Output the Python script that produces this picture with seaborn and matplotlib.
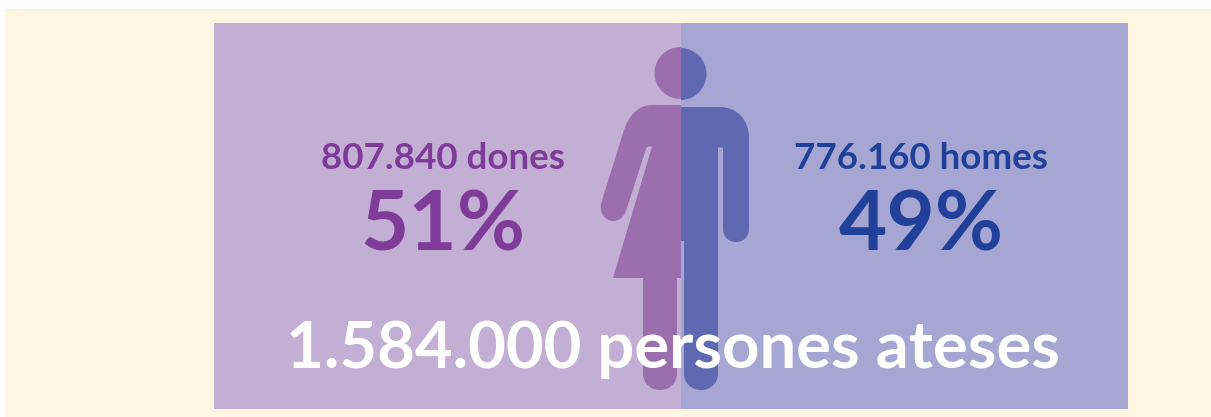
import matplotlib
matplotlib.use('Agg')
import matplotlib.pyplot as plt
from matplotlib.patches import Circle, PathPatch, Rectangle
from matplotlib.path import Path
import seaborn as sns

# Data
grups = ['dones', 'homes']
persones = [807840, 776160]
percentatges = ['51%', '49%']
etiquetes = ['807.840 dones', '776.160 homes']
total_label = '1.584.000 persones ateses'

W, H = 1211, 417
CREAM = '#FEF5E2'
BG = {'dones': '#C3AED4', 'homes': '#A5A6D2'}
ICON = {'dones': '#9B6FAE', 'homes': '#5F69B2'}
TXT = {'dones': '#7E3C98', 'homes': '#21409A'}

sns.set_theme(style='white')
plt.rcParams['font.family'] = ['Lato', 'DejaVu Sans']

fig = plt.figure(figsize=(W / 100, H / 100), dpi=100, facecolor='white')

# pixel canvas for the background and the icon
bg = fig.add_axes([0, 0, 1, 1], zorder=0)
bg.set_xlim(0, W)
bg.set_ylim(H, 0)
bg.axis('off')
bg.add_patch(Rectangle((5, 9), W - 5, H - 9, color=CREAM, lw=0))

# the two bars fill the panel, stacked by overlaying
ax = fig.add_axes([214 / W, 1 - 409 / H, 914 / W, 386 / H], zorder=1)
sns.barplot(x=[sum(persones)], y=['total'], color=BG['homes'], saturation=1, width=1, linewidth=0, ax=ax)
sns.barplot(x=[persones[0]], y=['total'], color=BG['dones'], saturation=1, width=1, linewidth=0, ax=ax)
ax.set_xlim(0, sum(persones) * 0.998)  # puts the split on pixel 681 like the original
ax.set_ylim(0.5, -0.5)
ax.axis('off')

top = fig.add_axes([0, 0, 1, 1], zorder=2)
top.set_xlim(0, W)
top.set_ylim(H, 0)
top.axis('off')
top.patch.set_alpha(0)

M, L, C = Path.MOVETO, Path.LINETO, Path.CURVE4


def shape(steps, color):
    verts = [p for _, p in steps]
    codes = [c for c, _ in steps]
    top.add_patch(PathPatch(Path(verts, codes), facecolor=color, edgecolor='none', lw=0))


# heads, cut at the middle line
head_f = Circle((680.5, 73), 26, color=ICON['dones'], lw=0)
top.add_patch(head_f)
head_f.set_clip_path(Rectangle((600, 40), 81, 70, transform=top.transData))
head_m = Circle((680.5, 74), 26, color=ICON['homes'], lw=0)
top.add_patch(head_m)
head_m.set_clip_path(Rectangle((681, 40), 40, 70, transform=top.transData))

# woman
shape([(M, (681, 105)), (L, (652, 105)),
       (C, (638, 105)), (C, (628, 116)), (C, (623, 133)),
       (L, (601.5, 202)),
       (C, (598, 214)), (C, (607, 221)), (C, (613, 221)),
       (C, (619, 221)), (C, (624, 217)), (C, (626, 211)),
       (L, (646, 149)), (C, (646.5, 147)), (C, (648, 146.5)), (C, (650, 146.5)),
       (L, (652, 146.5)), (L, (613, 278)), (L, (643, 278)), (L, (643, 373)),
       (C, (643, 384)), (C, (651, 390)), (C, (660, 390)),
       (C, (669, 390)), (C, (677, 384)), (C, (677, 373)),
       (L, (677, 278)), (L, (681, 278)), (L, (681, 105))], ICON['dones'])

# man
shape([(M, (681, 107)), (L, (720, 107)),
       (C, (737, 107)), (C, (749, 120)), (C, (749, 138)),
       (L, (749, 229)),
       (C, (749, 237)), (C, (743, 242)), (C, (736, 242)),
       (C, (729, 242)), (C, (723, 237)), (C, (723, 229)),
       (L, (723, 149)), (C, (723, 148)), (C, (722, 147.5)), (C, (721, 147.5)),
       (L, (718, 147.5)), (L, (718, 373)),
       (C, (718, 384)), (C, (710, 390)), (C, (701, 390)),
       (C, (692, 390)), (C, (684, 384)), (C, (684, 373)),
       (L, (684, 241)), (L, (681, 241)), (L, (681, 107))], ICON['homes'])

# texts
centres = [443, 921]
for grup, cx, etiq, pct in zip(grups, centres, etiquetes, percentatges):
    top.text(cx, 169, etiq, color=TXT[grup], fontsize=26.5, fontweight='bold', ha='center', va='baseline')
    top.text(cx, 250, pct, color=TXT[grup], fontsize=60, fontweight='bold', ha='center', va='baseline')

top.text(673.5, 368, total_label, color='white', fontsize=47, fontweight='bold', ha='center', va='baseline')

fig.savefig('out.png', dpi=100)
